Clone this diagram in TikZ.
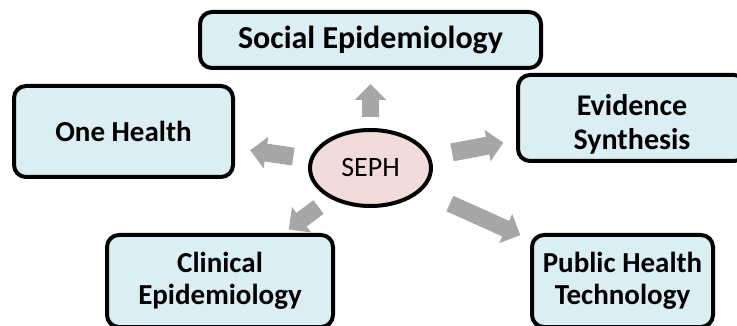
\documentclass[tikz,border=0pt]{standalone}
\usepackage{fontspec}
\setmainfont{Carlito}
\usepackage{tikz}
\usepackage{xcolor}
\usetikzlibrary{shapes, arrows.meta, positioning}
\definecolor{boxblue}{RGB}{218, 238, 243}
\definecolor{hubpink}{RGB}{242, 220, 219}
\definecolor{arrowgrey}{RGB}{166, 166, 166}

\begin{document}
\begin{tikzpicture}[x=1pt, y=-1pt, every node/.style={font=\fontsize{29}{32}\selectfont\bfseries},
  topic/.style={rectangle, draw=black, line width=4pt, fill=boxblue, rounded corners=12pt, align=center, inner sep=2pt},
  fatarrow/.style={draw=arrowgrey, line width=18pt, -{Triangle[length=16pt, width=31pt]}}]
\clip (0,0) rectangle (737,326);
\node[ellipse, draw=black, line width=4pt, fill=hubpink, minimum width=121pt, minimum height=76pt, font=\fontsize{28}{30}\selectfont] (seph) at (370.5,168) {SEPH};
\node[topic, minimum width=341pt, minimum height=56pt, font=\fontsize{32}{34}\selectfont\bfseries] (social) at (370.5,40) {Social Epidemiology};
\node[topic, minimum width=219pt, minimum height=91pt] (onehealth) at (123.5,131.5) {One Health};
\node[topic, minimum width=228pt, minimum height=86pt, font=\fontsize{30}{34}\selectfont\bfseries] (evid) at (632,118) {\rule{0pt}{33pt}Evidence \\ Synthesis};
\node[topic, minimum width=226pt, minimum height=92pt] (clin) at (220,281) {Clinical \\ Epidemiology};
\node[topic, minimum width=181pt, minimum height=92pt] (pht) at (622.5,281) {Public Health \\ Technology};

\draw[fatarrow, line width=17pt, shorten <=51pt, shorten >=44pt] (seph.center) -- (social.center);
\draw[fatarrow, shorten <=78pt, shorten >=128pt] (seph.center) -- (onehealth.center);
\draw[fatarrow, shorten <=83pt, shorten >=131pt] (seph.center) -- (evid.center);
\draw[fatarrow, line width=17pt, shorten <=65pt, shorten >=86pt] (seph.center) -- (clin.center);
\draw[fatarrow, line width=17pt, shorten <=87pt, shorten >=112pt] (seph.center) -- (pht.center);
\end{tikzpicture}
\end{document}
